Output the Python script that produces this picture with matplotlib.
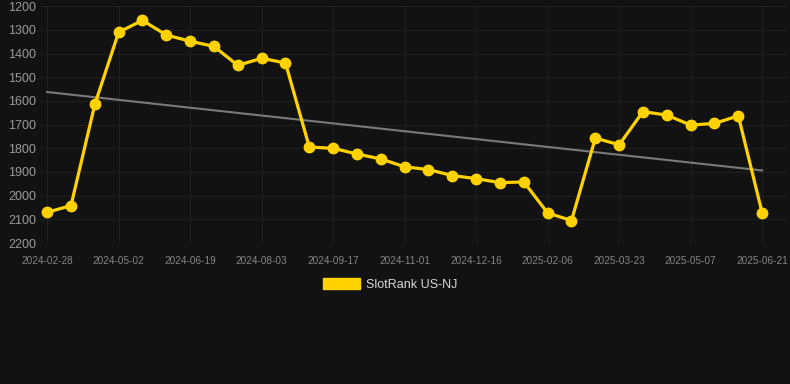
import numpy as np
import matplotlib.pyplot as plt
from matplotlib.patches import Patch

# Data
tick_labels = ['2024-02-28', '2024-05-02', '2024-06-19', '2024-08-03', '2024-09-17',
               '2024-11-01', '2024-12-16', '2025-02-06', '2025-03-23', '2025-05-07',
               '2025-06-21']
rank = [2070, 2042, 1615, 1310, 1260, 1322, 1348, 1370, 1450, 1420, 1440,
        1795, 1800, 1824, 1845, 1878, 1890, 1915, 1928, 1945, 1942,
        2073, 2105, 1757, 1785, 1645, 1660, 1702, 1695, 1663, 2073]
series_name = 'SlotRank US-NJ'

bg = '#121212'
gold = '#FFD200'

x = np.arange(len(rank))
trend = np.polyval(np.polyfit(x, rank, 1), x)

fig = plt.figure(figsize=(7.9, 3.84), dpi=100, facecolor=bg)
ax = fig.add_axes([40 / 790, 0.367, 746 / 790, 0.617], facecolor=bg)

ax.plot(x, trend, color='#7a7a7a', lw=1.5, zorder=2)
ax.plot(x, rank, color=gold, lw=2.3, marker='o', markersize=7.5, zorder=3)

ax.set_ylim(2200, 1200)
ax.set_yticks(range(1200, 2201, 100))
ax.set_xlim(-0.3, 31.0)
ax.set_xticks(x[::3])
ax.set_xticklabels(tick_labels)

ax.grid(True, color='#1f1f1f', lw=0.8)
ax.axhline(2200, color='#2c2c2c', lw=0.8, zorder=1)
for s in ax.spines.values():
    s.set_visible(False)
ax.tick_params(axis='y', length=0, pad=3, labelsize=9, labelcolor='#9a9a9a')
ax.tick_params(axis='x', length=0, pad=9, labelsize=7.2, labelcolor='#858585')
for lab in ax.get_xticklabels() + ax.get_yticklabels():
    lab.set_fontfamily('Liberation Sans')

leg = fig.legend(handles=[Patch(facecolor=gold, edgecolor=gold, label=series_name)],
                 loc='center', bbox_to_anchor=(0.494, 0.26), frameon=False,
                 handlelength=3.0, handleheight=1.0, handletextpad=0.5,
                 prop={'family': 'Liberation Sans', 'size': 9})
for t in leg.get_texts():
    t.set_color('#d8d8d8')

fig.savefig('out.png', dpi=100, facecolor=bg)
